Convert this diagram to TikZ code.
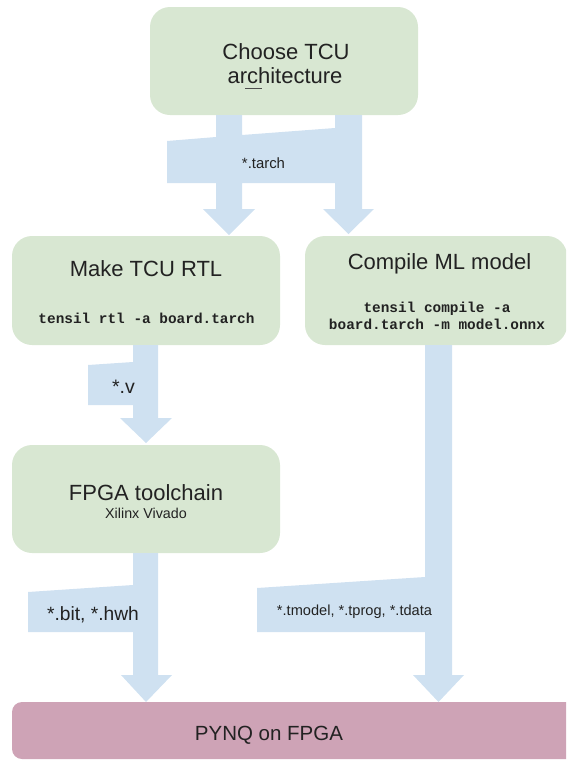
\documentclass[tikz,border=0pt]{standalone}
\usepackage{fontspec}
\setmainfont{Liberation Sans}
\newfontfamily\codefont{Liberation Mono}
\definecolor{boxgreen}{HTML}{D8E7D2}
\definecolor{flowblue}{HTML}{CFE1F1}
\definecolor{boxpink}{HTML}{CEA3B6}
\definecolor{ink}{HTML}{222222}
\newcommand{\fs}[1]{\fontsize{#1}{#1}\selectfont}
\tikzset{
  stagebox/.style={fill=boxgreen, draw=none, rounded corners=20},
  targetbox/.style={fill=boxpink, draw=none, rounded corners=10},
  flow/.style={fill=flowblue, draw=none},
  txt/.style={inner sep=0, anchor=base, text=ink},
  title/.style={txt, font=\fs{22}},
  code/.style={txt, font=\codefont\bfseries\fs{14.4}},
}
\begin{document}
\begin{tikzpicture}[x=1pt, y=-1pt]
\useasboundingbox (0,0) rectangle (566,761);
\clip (0,0) rectangle (566,761);

% stage boxes
\path[stagebox] (150,7) rectangle (418,115);
\node[inner sep=0, minimum size=0] (arch) at (284,61) {};
\path[stagebox] (12,236) rectangle (280,345);
\node[inner sep=0, minimum size=0] (rtl) at (146,290) {};
\path[stagebox] (305,236) rectangle (567,345);
\node[inner sep=0, minimum size=0] (compile) at (436,290) {};
\path[stagebox] (12,445) rectangle (280,553);
\node[inner sep=0, minimum size=0] (fpga) at (146,499) {};
\path[targetbox] (12,702) rectangle (640,759);
\node[inner sep=0, minimum size=0] (pynq) at (269,730) {};

% block arrows carrying the artefacts
\fill[flow] (216,115) -- (216,137) -- (167,141) -- (167,183) -- (216,183)
  -- (216,209) -- (203,209) -- (229,235) -- (255,209) -- (242,209)
  -- (242,183) -- (335,183) -- (335,209) -- (323,209) -- (348.5,234)
  -- (374,209) -- (362,209) -- (362,115) -- (335,115) -- (335,128)
  -- (242,135) -- (242,115) -- cycle;
\fill[flow] (133,345) -- (133,362) -- (88,365) -- (88,405) -- (133,405)
  -- (133,418) -- (120,418) -- (146,443) -- (172,418) -- (158,418)
  -- (158,345) -- cycle;
\fill[flow] (133,553) -- (133,585) -- (28,592) -- (28,632) -- (133,632)
  -- (133,675) -- (121,675) -- (146,702) -- (172,675) -- (158,675)
  -- (158,553) -- cycle;
\fill[flow] (425,345) -- (425,577) -- (257,588) -- (257,632) -- (425,632)
  -- (425,675) -- (413,675) -- (438.5,702) -- (464,675) -- (452,675)
  -- (452,345) -- cycle;

% box texts
\node[title] (archA) at (286,59.5) {Choose TCU};
\node[title] (archB) at (285,83.5) {architecture};
\draw[ink!80, line width=1] (245,88) -- (262,88);
\node[title] (rtlT) at (146,276.5) {Make TCU RTL};
\node[code] (rtlC) at (146.5,323) {tensil rtl -a board.tarch};
\node[title] (cmpT) at (439.5,269.5) {Compile ML model};
\node[code] (cmpC1) at (437,312.7) {tensil compile -a};
\node[code] (cmpC2) at (437,329) {board.tarch -m model.onnx};
\node[title] (fpgaT) at (146,500) {FPGA toolchain};
\node[txt, font=\fs{14.3}] (fpgaS) at (146,518) {Xilinx Vivado};
\node[txt, font=\fs{20.5}] (pynqT) at (269,740) {PYNQ on FPGA};

% artefact labels
\node[txt, font=\fs{14.9}] (lTarch) at (263.5,168) {*.tarch};
\node[txt, font=\fs{19.5}] (lV) at (123.5,393) {*.v};
\node[txt, font=\fs{19.2}] (lBit) at (93,620) {*.bit, *.hwh};
\node[txt, font=\fs{14.6}] (lModel) at (354.5,615) {*.tmodel, *.tprog, *.tdata};
\end{tikzpicture}
\end{document}
